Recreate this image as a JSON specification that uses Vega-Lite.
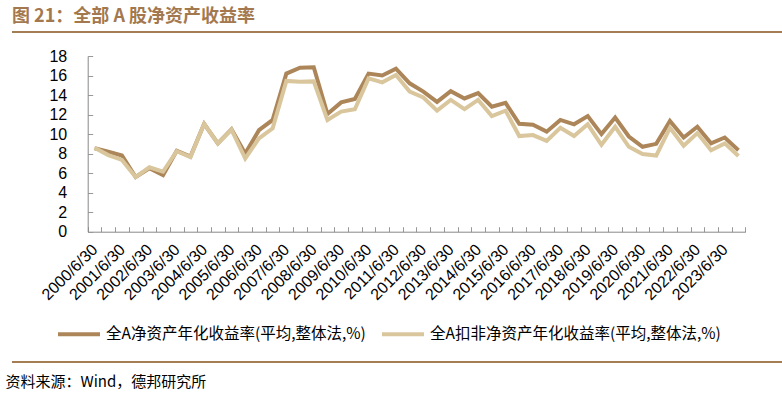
{
  "$schema": "https://vega.github.io/schema/vega-lite/v6.json",
  "padding": {"left": 5, "top": 8, "right": 4, "bottom": 5},
  "background": "white",
  "width": 773,
  "height": 330,
  "title": {"text": "图 21：全部 A 股净资产收益率", "anchor": "start", "frame": "group", "font": "Noto Sans CJK SC", "fontSize": 18, "fontWeight": "bold", "color": "#a3784e", "offset": 6},
  "view": {"stroke": "#a57d55", "strokeWidth": 2, "strokeDash": [773, 330], "fill": null},
  "data": {"values": [
      {"date": "2000/6/30", "series": "全A净资产年化收益率(平均,整体法,%)", "value": 8.55},
      {"date": "2000/12/31", "series": "全A净资产年化收益率(平均,整体法,%)", "value": 8.2},
      {"date": "2001/6/30", "series": "全A净资产年化收益率(平均,整体法,%)", "value": 7.8},
      {"date": "2001/12/31", "series": "全A净资产年化收益率(平均,整体法,%)", "value": 5.6},
      {"date": "2002/6/30", "series": "全A净资产年化收益率(平均,整体法,%)", "value": 6.5},
      {"date": "2002/12/31", "series": "全A净资产年化收益率(平均,整体法,%)", "value": 5.8},
      {"date": "2003/6/30", "series": "全A净资产年化收益率(平均,整体法,%)", "value": 8.3},
      {"date": "2003/12/31", "series": "全A净资产年化收益率(平均,整体法,%)", "value": 7.7},
      {"date": "2004/6/30", "series": "全A净资产年化收益率(平均,整体法,%)", "value": 11.05},
      {"date": "2004/12/31", "series": "全A净资产年化收益率(平均,整体法,%)", "value": 9.05},
      {"date": "2005/6/30", "series": "全A净资产年化收益率(平均,整体法,%)", "value": 10.5},
      {"date": "2005/12/31", "series": "全A净资产年化收益率(平均,整体法,%)", "value": 8.0},
      {"date": "2006/6/30", "series": "全A净资产年化收益率(平均,整体法,%)", "value": 10.4},
      {"date": "2006/12/31", "series": "全A净资产年化收益率(平均,整体法,%)", "value": 11.45},
      {"date": "2007/6/30", "series": "全A净资产年化收益率(平均,整体法,%)", "value": 16.2},
      {"date": "2007/12/31", "series": "全A净资产年化收益率(平均,整体法,%)", "value": 16.8},
      {"date": "2008/6/30", "series": "全A净资产年化收益率(平均,整体法,%)", "value": 16.85},
      {"date": "2008/12/31", "series": "全A净资产年化收益率(平均,整体法,%)", "value": 12.05},
      {"date": "2009/6/30", "series": "全A净资产年化收益率(平均,整体法,%)", "value": 13.25},
      {"date": "2009/12/31", "series": "全A净资产年化收益率(平均,整体法,%)", "value": 13.6},
      {"date": "2010/6/30", "series": "全A净资产年化收益率(平均,整体法,%)", "value": 16.2},
      {"date": "2010/12/31", "series": "全A净资产年化收益率(平均,整体法,%)", "value": 16.0},
      {"date": "2011/6/30", "series": "全A净资产年化收益率(平均,整体法,%)", "value": 16.7},
      {"date": "2011/12/31", "series": "全A净资产年化收益率(平均,整体法,%)", "value": 15.2},
      {"date": "2012/6/30", "series": "全A净资产年化收益率(平均,整体法,%)", "value": 14.35},
      {"date": "2012/12/31", "series": "全A净资产年化收益率(平均,整体法,%)", "value": 13.3},
      {"date": "2013/6/30", "series": "全A净资产年化收益率(平均,整体法,%)", "value": 14.4},
      {"date": "2013/12/31", "series": "全A净资产年化收益率(平均,整体法,%)", "value": 13.65},
      {"date": "2014/6/30", "series": "全A净资产年化收益率(平均,整体法,%)", "value": 14.2},
      {"date": "2014/12/31", "series": "全A净资产年化收益率(平均,整体法,%)", "value": 12.8},
      {"date": "2015/6/30", "series": "全A净资产年化收益率(平均,整体法,%)", "value": 13.2},
      {"date": "2015/12/31", "series": "全A净资产年化收益率(平均,整体法,%)", "value": 11.05},
      {"date": "2016/6/30", "series": "全A净资产年化收益率(平均,整体法,%)", "value": 10.95},
      {"date": "2016/12/31", "series": "全A净资产年化收益率(平均,整体法,%)", "value": 10.25},
      {"date": "2017/6/30", "series": "全A净资产年化收益率(平均,整体法,%)", "value": 11.45},
      {"date": "2017/12/31", "series": "全A净资产年化收益率(平均,整体法,%)", "value": 11.0},
      {"date": "2018/6/30", "series": "全A净资产年化收益率(平均,整体法,%)", "value": 11.85},
      {"date": "2018/12/31", "series": "全A净资产年化收益率(平均,整体法,%)", "value": 10.0},
      {"date": "2019/6/30", "series": "全A净资产年化收益率(平均,整体法,%)", "value": 11.7},
      {"date": "2019/12/31", "series": "全A净资产年化收益率(平均,整体法,%)", "value": 9.75},
      {"date": "2020/6/30", "series": "全A净资产年化收益率(平均,整体法,%)", "value": 8.7},
      {"date": "2020/12/31", "series": "全A净资产年化收益率(平均,整体法,%)", "value": 9.0},
      {"date": "2021/6/30", "series": "全A净资产年化收益率(平均,整体法,%)", "value": 11.35},
      {"date": "2021/12/31", "series": "全A净资产年化收益率(平均,整体法,%)", "value": 9.65},
      {"date": "2022/6/30", "series": "全A净资产年化收益率(平均,整体法,%)", "value": 10.75},
      {"date": "2022/12/31", "series": "全A净资产年化收益率(平均,整体法,%)", "value": 9.05},
      {"date": "2023/6/30", "series": "全A净资产年化收益率(平均,整体法,%)", "value": 9.65},
      {"date": "2023/12/31", "series": "全A净资产年化收益率(平均,整体法,%)", "value": 8.35},
      {"date": "2000/6/30", "series": "全A扣非净资产年化收益率(平均,整体法,%)", "value": 8.6},
      {"date": "2000/12/31", "series": "全A扣非净资产年化收益率(平均,整体法,%)", "value": 7.85},
      {"date": "2001/6/30", "series": "全A扣非净资产年化收益率(平均,整体法,%)", "value": 7.35},
      {"date": "2001/12/31", "series": "全A扣非净资产年化收益率(平均,整体法,%)", "value": 5.6},
      {"date": "2002/6/30", "series": "全A扣非净资产年化收益率(平均,整体法,%)", "value": 6.6},
      {"date": "2002/12/31", "series": "全A扣非净资产年化收益率(平均,整体法,%)", "value": 6.15},
      {"date": "2003/6/30", "series": "全A扣非净资产年化收益率(平均,整体法,%)", "value": 8.25},
      {"date": "2003/12/31", "series": "全A扣非净资产年化收益率(平均,整体法,%)", "value": 7.65},
      {"date": "2004/6/30", "series": "全A扣非净资产年化收益率(平均,整体法,%)", "value": 11.05},
      {"date": "2004/12/31", "series": "全A扣非净资产年化收益率(平均,整体法,%)", "value": 9.05},
      {"date": "2005/6/30", "series": "全A扣非净资产年化收益率(平均,整体法,%)", "value": 10.45},
      {"date": "2005/12/31", "series": "全A扣非净资产年化收益率(平均,整体法,%)", "value": 7.5},
      {"date": "2006/6/30", "series": "全A扣非净资产年化收益率(平均,整体法,%)", "value": 9.55},
      {"date": "2006/12/31", "series": "全A扣非净资产年化收益率(平均,整体法,%)", "value": 10.6},
      {"date": "2007/6/30", "series": "全A扣非净资产年化收益率(平均,整体法,%)", "value": 15.45},
      {"date": "2007/12/31", "series": "全A扣非净资产年化收益率(平均,整体法,%)", "value": 15.35},
      {"date": "2008/6/30", "series": "全A扣非净资产年化收益率(平均,整体法,%)", "value": 15.4},
      {"date": "2008/12/31", "series": "全A扣非净资产年化收益率(平均,整体法,%)", "value": 11.45},
      {"date": "2009/6/30", "series": "全A扣非净资产年化收益率(平均,整体法,%)", "value": 12.3},
      {"date": "2009/12/31", "series": "全A扣非净资产年化收益率(平均,整体法,%)", "value": 12.55},
      {"date": "2010/6/30", "series": "全A扣非净资产年化收益率(平均,整体法,%)", "value": 15.7},
      {"date": "2010/12/31", "series": "全A扣非净资产年化收益率(平均,整体法,%)", "value": 15.3},
      {"date": "2011/6/30", "series": "全A扣非净资产年化收益率(平均,整体法,%)", "value": 16.05},
      {"date": "2011/12/31", "series": "全A扣非净资产年化收益率(平均,整体法,%)", "value": 14.35},
      {"date": "2012/6/30", "series": "全A扣非净资产年化收益率(平均,整体法,%)", "value": 13.75},
      {"date": "2012/12/31", "series": "全A扣非净资产年化收益率(平均,整体法,%)", "value": 12.4},
      {"date": "2013/6/30", "series": "全A扣非净资产年化收益率(平均,整体法,%)", "value": 13.5},
      {"date": "2013/12/31", "series": "全A扣非净资产年化收益率(平均,整体法,%)", "value": 12.55},
      {"date": "2014/6/30", "series": "全A扣非净资产年化收益率(平均,整体法,%)", "value": 13.5},
      {"date": "2014/12/31", "series": "全A扣非净资产年化收益率(平均,整体法,%)", "value": 11.85},
      {"date": "2015/6/30", "series": "全A扣非净资产年化收益率(平均,整体法,%)", "value": 12.4},
      {"date": "2015/12/31", "series": "全A扣非净资产年化收益率(平均,整体法,%)", "value": 9.8},
      {"date": "2016/6/30", "series": "全A扣非净资产年化收益率(平均,整体法,%)", "value": 9.9},
      {"date": "2016/12/31", "series": "全A扣非净资产年化收益率(平均,整体法,%)", "value": 9.3},
      {"date": "2017/6/30", "series": "全A扣非净资产年化收益率(平均,整体法,%)", "value": 10.65},
      {"date": "2017/12/31", "series": "全A扣非净资产年化收益率(平均,整体法,%)", "value": 9.8},
      {"date": "2018/6/30", "series": "全A扣非净资产年化收益率(平均,整体法,%)", "value": 11.0},
      {"date": "2018/12/31", "series": "全A扣非净资产年化收益率(平均,整体法,%)", "value": 8.9},
      {"date": "2019/6/30", "series": "全A扣非净资产年化收益率(平均,整体法,%)", "value": 10.75},
      {"date": "2019/12/31", "series": "全A扣非净资产年化收益率(平均,整体法,%)", "value": 8.7},
      {"date": "2020/6/30", "series": "全A扣非净资产年化收益率(平均,整体法,%)", "value": 7.95},
      {"date": "2020/12/31", "series": "全A扣非净资产年化收益率(平均,整体法,%)", "value": 7.8},
      {"date": "2021/6/30", "series": "全A扣非净资产年化收益率(平均,整体法,%)", "value": 10.65},
      {"date": "2021/12/31", "series": "全A扣非净资产年化收益率(平均,整体法,%)", "value": 8.8},
      {"date": "2022/6/30", "series": "全A扣非净资产年化收益率(平均,整体法,%)", "value": 10.1},
      {"date": "2022/12/31", "series": "全A扣非净资产年化收益率(平均,整体法,%)", "value": 8.35},
      {"date": "2023/6/30", "series": "全A扣非净资产年化收益率(平均,整体法,%)", "value": 9.05},
      {"date": "2023/12/31", "series": "全A扣非净资产年化收益率(平均,整体法,%)", "value": 7.75}
  ]},
  "mark": {"type": "line", "strokeWidth": 4, "strokeJoin": "miter", "strokeCap": "butt"},
  "encoding": {
    "x": {
      "field": "date", "type": "nominal", "sort": null,
      "scale": {"paddingInner": 0, "paddingOuter": 0, "range": [75.7, 733.3]},
      "axis": {
        "title": "资料来源：Wind，德邦研究所",
        "titleFont": "Noto Sans CJK SC",
        "titleFontSize": 15,
        "titleFontWeight": "normal",
        "titleColor": "#000000",
        "titleAlign": "left",
        "titleBaseline": "middle",
        "titleAnchor": "start",
        "titleX": -7,
        "titleY": 149.3,
        "offset": -130.3,
        "labelAngle": -45,
        "labelAlign": "right",
        "labelBaseline": "middle",
        "labelPadding": 20,
        "labelExpr": "indexof(datum.label, '/6/30') > 0 ? datum.label : ''",
        "labelFont": "Liberation Sans",
        "labelFontSize": 16,
        "labelColor": "#000000",
        "labelOverlap": false,
        "tickBand": "extent",
        "tickSize": -5,
        "tickColor": "#999999",
        "domainColor": "#888888",
        "grid": false
      }
    },
    "y": {
      "field": "value", "type": "quantitative",
      "scale": {"domain": [0, 18], "nice": false, "zero": true, "range": [199.7, 24]},
      "axis": {
        "title": null,
        "offset": -75.7,
        "values": [0, 2, 4, 6, 8, 10, 12, 14, 16, 18],
        "labelFont": "Liberation Sans",
        "labelFontSize": 16,
        "labelColor": "#000000",
        "labelPadding": 26,
        "tickSize": -5,
        "tickColor": "#999999",
        "domainColor": "#888888",
        "grid": false
      }
    },
    "color": {
      "field": "series", "type": "nominal",
      "sort": ["全A净资产年化收益率(平均,整体法,%)", "全A扣非净资产年化收益率(平均,整体法,%)"],
      "scale": {"range": ["#ac8659", "#d9c69c"]},
      "legend": {
        "title": null,
        "orient": "none",
        "direction": "horizontal",
        "legendX": 44,
        "legendY": 279,
        "symbolType": "stroke",
        "symbolSize": 1764,
        "symbolStrokeWidth": 5,
        "labelFont": "Noto Sans CJK SC",
        "labelFontSize": 15.5,
        "labelColor": "#000000",
        "labelLimit": 400,
        "labelOffset": 4,
        "columnPadding": 8,
        "padding": 0
      }
    }
  },
  "config": {
    "line": {"strokeWidth": 4}
  }
}
